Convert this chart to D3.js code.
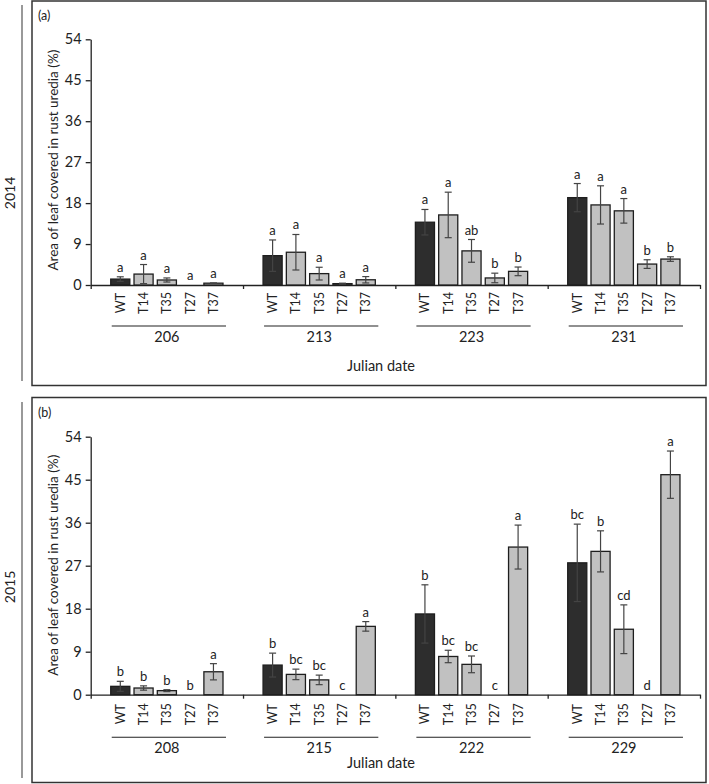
<!DOCTYPE html>
<html><head><meta charset="utf-8">
<script src="https://cdn.jsdelivr.net/npm/d3@7"></script>
<style>
body{margin:0;background:#fff}
svg{display:block}
text{font-family:Lato,"Noto Sans",sans-serif;fill:#222}
</style>
</head><body>
<svg id="c" width="709" height="784"></svg>
<script>
const treatments = ["WT","T14","T35","T27","T37"];
const yTicks = [0,9,18,27,36,45,54];

const dates2014 = ["206","213","223","231"];
const means2014 = [[1.3,2.4,1.1,0,0.4],[6.45,7.2,2.5,0.3,1.15],[13.8,15.4,7.5,1.55,3.0],[19.2,17.6,16.3,4.6,5.7]];
const se2014 = [[0.5,2.1,0.45,0,0.05],[3.45,3.9,1.4,0.1,0.7],[2.8,5.0,2.5,1.05,0.95],[3.1,4.2,2.7,0.95,0.5]];
const letters2014 = [["a","a","a","a","a"],["a","a","a","a","a"],["a","a","ab","b","b"],["a","a","a","b","b"]];

const dates2015 = ["208","215","222","229"];
const means2015 = [[1.75,1.4,0.85,0,4.8],[6.2,4.25,3.1,0,14.3],[16.9,8.0,6.35,0,30.9],[27.6,30.0,13.7,0,46.05]];
const se2015 = [[1.05,0.45,0.2,0,1.7],[2.5,1.1,1.0,0,1.0],[6.1,1.3,1.75,0,4.6],[8.1,4.3,5.1,0,4.95]];
const letters2015 = [["b","b","b","b","a"],["b","bc","bc","c","a"],["b","bc","bc","c","a"],["bc","b","cd","d","a"]];

const yTitle = "Area of leaf covered in rust uredia (%)";
const xTitle = "Julian date";

const svg = d3.select("#c");
const X0 = 90.7, X1 = 700;

function panel(cfg){
  const g = svg.append("g");
  g.append("rect").attr("x",32).attr("y",cfg.boxTop).attr("width",674).attr("height",cfg.boxBottom-cfg.boxTop)
    .attr("fill","none").attr("stroke","#333").attr("stroke-width",1.5);
  g.append("line").attr("x1",22).attr("x2",22).attr("y1",cfg.yearTop).attr("y2",cfg.yearBottom)
    .attr("stroke","#777").attr("stroke-width",1.5);
  g.append("text").attr("transform",`translate(14.5,${cfg.yearMid}) rotate(-90)`).attr("text-anchor","middle")
    .style("font-size","14px").text(cfg.year);
  g.append("text").attr("x",38).attr("y",cfg.boxTop+19).style("font-size","12.5px").text(cfg.tag);

  const y = d3.scaleLinear().domain([0,54]).range([cfg.plotBottom,cfg.plotTop]);
  const xg = d3.scaleBand().domain(cfg.dates).range([X0,X1]).padding(0);
  const xi = d3.scaleBand().domain(treatments).range([0,xg.bandwidth()]).paddingInner(0.18).paddingOuter(0.86);
  const xb = d3.scaleLinear().domain([0,cfg.dates.length]).range([X0,X1]);

  const ya = g.append("g").attr("transform",`translate(${X0},0)`)
    .call(d3.axisLeft(y).tickValues(yTicks).tickSize(5).tickSizeOuter(0).tickPadding(4));
  ya.selectAll("text").style("font-size","14.5px").style("font-family","Lato, 'Noto Sans', sans-serif").attr("fill","#222");
  ya.selectAll("line,path").attr("stroke","#222").attr("stroke-width",1.3);

  const xa = g.append("g").attr("transform",`translate(0,${cfg.plotBottom})`)
    .call(d3.axisBottom(xb).tickValues(d3.range(cfg.dates.length+1)).tickSize(4).tickSizeOuter(0).tickFormat(""));
  xa.selectAll("line,path").attr("stroke","#222").attr("stroke-width",1.3);

  g.append("text").attr("transform",`translate(${cfg.yTitleX},${(cfg.plotTop+cfg.plotBottom)/2+cfg.yTitleShift}) rotate(-90)`)
    .attr("text-anchor","middle").style("font-size","13.5px").text(yTitle);

  const rows = [];
  cfg.dates.forEach((d,gi)=>treatments.forEach((t,ti)=>{
    rows.push({date:d,t:t,v:cfg.means[gi][ti],e:cfg.se[gi][ti],L:cfg.letters[gi][ti]});
  }));
  const cx = r => xg(r.date)+xi(r.t)+xi.bandwidth()/2;

  g.selectAll(null).data(rows.filter(r=>r.v>0)).join("rect")
    .attr("x",r=>xg(r.date)+xi(r.t)).attr("width",xi.bandwidth())
    .attr("y",r=>y(r.v)).attr("height",r=>y(0)-y(r.v))
    .attr("fill",r=>r.t==="WT"?"#2d2d2d":"#c1c1c1").attr("stroke","#1e1e1e").attr("stroke-width",1.3);

  const eb = rows.filter(r=>r.e>0);
  g.selectAll(null).data(eb).join("line")
    .attr("x1",cx).attr("x2",cx).attr("y1",r=>y(r.v+r.e)).attr("y2",r=>y(Math.max(0,r.v-r.e)))
    .attr("stroke","#444").attr("stroke-width",1.2);
  g.selectAll(null).data(eb).join("line")
    .attr("x1",r=>cx(r)-3.5).attr("x2",r=>cx(r)+3.5).attr("y1",r=>y(r.v+r.e)).attr("y2",r=>y(r.v+r.e))
    .attr("stroke","#444").attr("stroke-width",1.2);
  g.selectAll(null).data(eb.filter(r=>r.v-r.e>0.05)).join("line")
    .attr("x1",r=>cx(r)-3.5).attr("x2",r=>cx(r)+3.5).attr("y1",r=>y(r.v-r.e)).attr("y2",r=>y(r.v-r.e))
    .attr("stroke","#444").attr("stroke-width",1.2);

  g.selectAll(null).data(rows).join("text")
    .attr("x",cx).attr("y",r=>y(r.v+r.e)-cfg.letterGap).attr("text-anchor","middle")
    .style("font-size","13px").text(r=>r.L);

  g.selectAll(null).data(rows).join("text")
    .attr("transform",r=>`translate(${cx(r)+4.5},${cfg.plotBottom+cfg.catOff}) rotate(-90)`)
    .attr("text-anchor","middle").style("font-size","12.5px").text(r=>r.t);

  cfg.dates.forEach(d=>{
    const xs = xg(d)+xi("WT")+1, xe = xg(d)+xi("T37")+xi.bandwidth()+3;
    g.append("line").attr("x1",xs).attr("x2",xe).attr("y1",cfg.plotBottom+cfg.lineOff).attr("y2",cfg.plotBottom+cfg.lineOff)
      .attr("stroke","#222").attr("stroke-width",1.1);
    g.append("text").attr("x",xg(d)+xg.bandwidth()/2).attr("y",cfg.plotBottom+cfg.grpOff).attr("dy","0.35em")
      .attr("text-anchor","middle").style("font-size","14.5px").text(d);
  });
  g.append("text").attr("x",381).attr("y",cfg.plotBottom+cfg.titleOff).attr("dy","0.35em")
    .attr("text-anchor","middle").style("font-size","14.5px").text(xTitle);
}

panel({boxTop:1,boxBottom:385.5,yearTop:5,yearBottom:381,yearMid:193,year:"2014",tag:"(a)",
  plotTop:39.3,plotBottom:285,dates:dates2014,means:means2014,se:se2014,letters:letters2014,
  yTitleX:58,yTitleShift:-2,letterGap:5,catOff:18,lineOff:41,grpOff:52.3,titleOff:81});
panel({boxTop:397.5,boxBottom:782.5,yearTop:402,yearBottom:778,yearMid:587,year:"2015",tag:"(b)",
  plotTop:436.7,plotBottom:694.7,dates:dates2015,means:means2015,se:se2015,letters:letters2015,
  yTitleX:58,yTitleShift:-0.5,letterGap:5,catOff:19.5,lineOff:42.6,grpOff:53.6,titleOff:68.5});
</script>
</body></html>
